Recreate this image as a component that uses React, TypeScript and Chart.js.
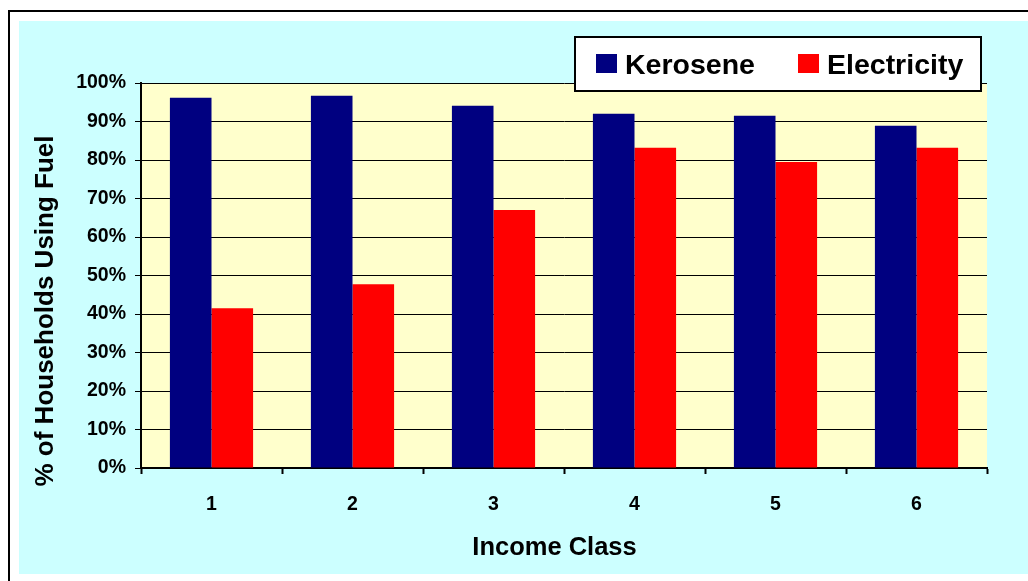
import React, { useEffect, useRef } from 'react';
import { Chart, registerables } from 'chart.js';

Chart.register(...registerables);

const incomeClasses = ['1', '2', '3', '4', '5', '6'];
const kerosene = [96.2, 96.7, 94.1, 92.0, 91.5, 88.9];
const electricity = [41.5, 47.7, 67.0, 83.2, 79.5, 83.2];
const seriesNames = ['Kerosene', 'Electricity'];
const seriesColors = ['#000080', '#FF0000'];
const xTitle = 'Income Class';
const yTitle = '% of Households Using Fuel';

const FONT = '"Liberation Sans", Arial, sans-serif';

const decor = {
  id: 'decor',
  beforeDraw(chart: any) {
    const { ctx, chartArea: a } = chart;
    ctx.save();
    ctx.fillStyle = '#FFFFCC';
    ctx.fillRect(a.left, a.top, a.right - a.left, a.bottom - a.top);
    ctx.restore();
  },
  afterDraw(chart: any) {
    const { ctx, chartArea: a } = chart;
    ctx.save();
    // axis titles
    ctx.fillStyle = '#000';
    ctx.font = `bold 25.5px ${FONT}`;
    ctx.textAlign = 'center';
    ctx.textBaseline = 'alphabetic';
    ctx.fillText(xTitle, (a.left + a.right) / 2 - 9.5, a.bottom + 87);

    ctx.save();
    ctx.translate(27, (a.top + a.bottom) / 2 + 35.5);
    ctx.rotate(-Math.PI / 2);
    ctx.font = `bold 26px ${FONT}`;
    ctx.textBaseline = 'middle';
    ctx.fillText(yTitle, 0, 0);
    ctx.restore();

    // legend
    const bx = a.right - 412;
    const by = a.top - 46;
    const bw = 406;
    const bh = 54;
    ctx.fillStyle = '#FFFFFF';
    ctx.fillRect(bx, by, bw, bh);
    ctx.strokeStyle = '#000';
    ctx.lineWidth = 2;
    ctx.strokeRect(bx, by, bw, bh);
    const offsets = [21, 223];
    ctx.font = `bold 28.5px ${FONT}`;
    ctx.textAlign = 'left';
    ctx.textBaseline = 'alphabetic';
    seriesNames.forEach((name, i) => {
      ctx.fillStyle = seriesColors[i];
      ctx.fillRect(bx + offsets[i], by + 17, 21, 19);
      ctx.fillStyle = '#000';
      ctx.fillText(name, bx + offsets[i] + 29, by + 37);
    });
    ctx.restore();
  },
};

export default function App() {
  const ref = useRef<HTMLCanvasElement | null>(null);

  useEffect(() => {
    document.body.style.overflow = 'hidden';
    const canvas = ref.current;
    if (!canvas) return;
    const chart = new Chart(canvas, {
      type: 'bar',
      data: {
        labels: incomeClasses,
        datasets: [
          {
            label: seriesNames[0],
            data: kerosene,
            backgroundColor: seriesColors[0],
            borderWidth: 0,
          },
          {
            label: seriesNames[1],
            data: electricity,
            backgroundColor: seriesColors[1],
            borderWidth: 0,
          },
        ],
      },
      options: {
        responsive: false,
        animation: false,
        devicePixelRatio: 1,
        layout: { padding: { top: 62, right: 52, left: 0, bottom: 0 } },
        datasets: {
          bar: { categoryPercentage: 0.59, barPercentage: 1 },
        },
        plugins: {
          legend: { display: false },
          tooltip: { enabled: false },
          title: { display: false },
        },
        scales: {
          x: {
            offset: true,
            grid: {
              offset: true,
              drawOnChartArea: false,
              drawTicks: true,
              tickLength: 6,
              tickWidth: 2,
              tickColor: '#000',
              color: '#000',
            },
            border: { display: true, color: '#000', width: 2 },
            ticks: {
              color: '#000',
              padding: 19,
              font: { family: FONT, size: 19.5, weight: 'bold' },
            },
            afterFit: (scale: any) => {
              scale.height = 106;
            },
          },
          y: {
            min: 0,
            max: 100,
            grid: {
              color: '#000',
              lineWidth: 1,
              drawTicks: true,
              tickLength: 6,
              tickWidth: 1,
              tickColor: '#000',
            },
            border: { display: true, color: '#000', width: 2 },
            ticks: {
              stepSize: 10,
              color: '#000',
              padding: 9,
              font: { family: FONT, size: 19.5, weight: 'bold' },
              callback: (v: any) => `${v}%`,
            },
            afterFit: (scale: any) => {
              scale.width = 122;
            },
          },
        },
      },
      plugins: [decor],
    });
    return () => chart.destroy();
  }, []);

  return (
    <div
      style={{
        position: 'fixed',
        left: 8,
        top: 10,
        border: '2px solid #000',
        padding: 9,
        background: '#FFFFFF',
      }}
    >
      <div style={{ background: '#CCFFFF', width: 1020, height: 553 }}>
        <canvas ref={ref} width={1020} height={553} style={{ display: 'block' }} />
      </div>
    </div>
  );
}
